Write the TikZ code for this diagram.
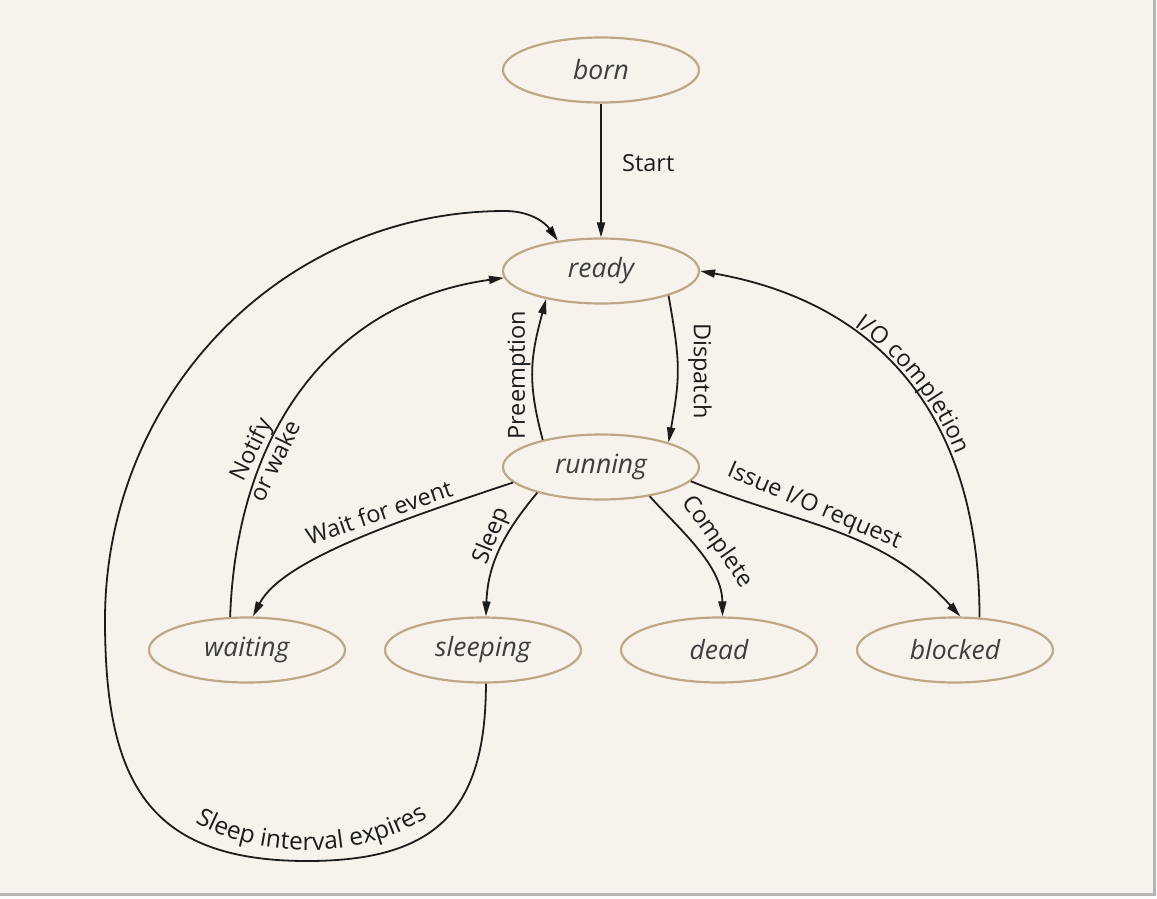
\documentclass[tikz,border=0pt]{standalone}
\usepackage{fontspec}
\setmainfont{Open Sans}
\usetikzlibrary{arrows.meta,shapes.geometric,decorations.text}
\definecolor{paper}{RGB}{247,243,236}
\definecolor{rim}{RGB}{190,167,134}
\definecolor{ink}{RGB}{28,28,28}
\definecolor{shadowgray}{RGB}{180,180,180}
\newcommand{\statefont}{\fontsize{26.5}{30}\selectfont\itshape}
\newcommand{\labelfont}{\fontsize{23.5}{27}\selectfont}
\newcommand{\looplabelfont}{\fontsize{24.5}{28}\selectfont}

\begin{document}
\begin{tikzpicture}[x=1pt,y=1pt,
  state/.style={ellipse, draw=rim, line width=2.2pt, minimum width=196pt,
    minimum height=65pt, inner sep=0pt, font=\statefont, text=ink!85},
  conn/.style={draw=ink, line width=1.8pt, -{Triangle[length=15pt,width=8pt]}},
  lbl/.style={font=\labelfont, text=ink, inner sep=0pt},
]
\useasboundingbox (0,0) rectangle (1157,-898);
% paper panel with its shadow rim
\fill[white!70!paper] (0,0) rectangle (1157,-898);
\fill[paper] (0,0) rectangle (1153,-893);
\draw[shadowgray, line width=3pt] (1154.5,0) -- (1154.5,-894.5) -- (0,-894.5);

% states
\node[state] (born)     at (601,-70)  {born};
\node[state] (ready)    at (601,-271) {ready};
\node[state] (running)  at (601,-467) {running};
\node[state] (waiting)  at (247,-650) {waiting};
\node[state] (sleeping) at (483,-650) {sleeping};
\node[state] (dead)     at (719,-650) {dead};
\node[state] (blocked)  at (955,-650) {blocked};

% waypoints of the long sleep loop
\coordinate (loopbottom) at (307,-861);
\coordinate (loopleft)   at (105,-620);
\coordinate (looptop)    at (505,-211);

% transitions
\draw[conn] (born) -- (ready);
\node[lbl, anchor=west] (startlbl) at (622,-163) {Start};

\draw[conn] (ready.-20) to[out=-80,in=80,looseness=1.2] (running.20);
\node[lbl, rotate=-90] (dispatchlbl) at (700,-371) {Dispatch};

\draw[conn] (running.155) to[out=105,in=-105,looseness=1.1] (ready.207);
\node[lbl, rotate=90] (preemptlbl) at (519,-375) {Preemption};

\draw[conn] (running.190) .. controls (400,-520) and (282,-560) .. (waiting.80);
\node[lbl, rotate=19] (waitlbl) at (379,-512) {Wait for event};

\draw[conn] (waiting.117) to[out=88,in=188,looseness=1.05] (ready.184);
\node[lbl, rotate=64, align=center] (notifylbl) at (262,-455) {Notify\\or wake};

\draw[conn] (running.-158) to[out=-130,in=88] (sleeping.85);
\node[lbl, rotate=68] (sleeplbl) at (492,-536) {Sleep};

\draw[conn] (running.-31) .. controls (680,-530) and (722,-565) .. (dead.84);
\node[lbl, rotate=-55] (completelbl) at (717,-542) {Complete};

\draw[conn] (running.-9) to[out=-22,in=132] (blocked.81);
\node[lbl, rotate=-23] (issuelbl) at (814,-507) {Issue I/O request};

\draw[conn] (blocked.53) to[out=90,in=-10,looseness=1.1] (ready.east);
\path[decorate, decoration={text along path, text={|\labelfont|I/O completion},
    text align=center, raise=5pt, text color=ink}]
  (ready.east) to[out=-10,in=90,looseness=1.1] (blocked.53);

\draw[conn] (sleeping.-85) to[out=-90,in=0,looseness=1.3] (loopbottom)
  to[out=180,in=-90,looseness=1.3] (loopleft)
  to[out=90,in=180] (looptop)
  to[out=0,in=125] (ready.145);
\path[decorate, decoration={text along path, text={|\looplabelfont|Sleep interval expires},
    text align=center, text color=ink}]
  (148,-776) .. controls (203,-876) and (420,-876) .. (472,-768);
\end{tikzpicture}
\end{document}
